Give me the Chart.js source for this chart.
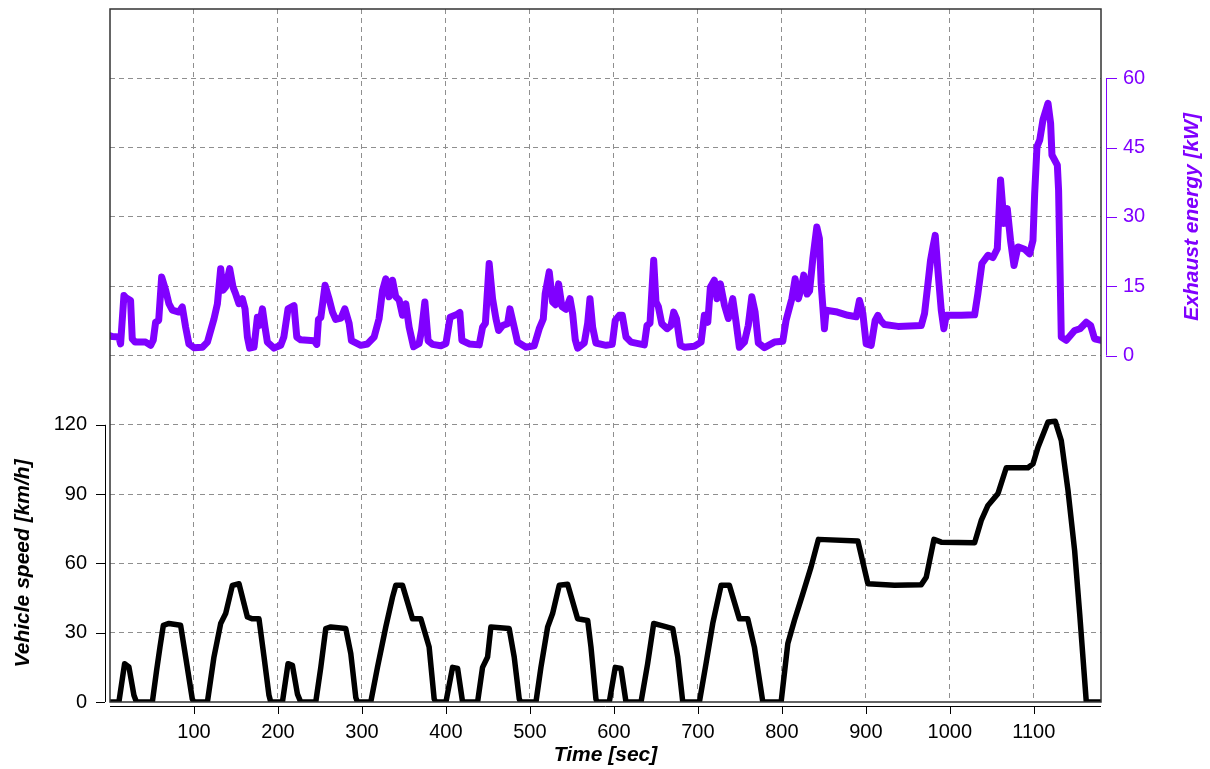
<!DOCTYPE html>
<html>
<head>
<meta charset="utf-8">
<script src="https://cdn.jsdelivr.net/npm/chart.js@4.4.1/dist/chart.umd.min.js"></script>
<style>
  html, body { margin: 0; padding: 0; background: #fff; }
</style>
</head>
<body>
<canvas id="cycle" width="1210" height="769"></canvas>
<script>
// vehicle speed over the drive cycle (s, km/h)
const speedTime = [0, 10.6, 17.4, 22.5, 28.5, 31.5, 50.4, 55.5, 59.5, 63.5, 70.2, 84.1, 90.1, 98, 100,
  116, 123.8, 131.8, 137.7, 145.7, 153.6, 163.6, 169.6, 177.4, 183.4, 189.3, 191.4,
  205.3, 212, 217.2, 223.2, 227.1, 245, 251, 256.9, 262.9, 280.7, 286.7, 292.7, 294.6,
  310.5, 318.5, 328.4, 336.4, 340.3, 348.3, 360.2, 370.1, 380, 386, 388,
  400, 407.9, 413.9, 419.8, 437.7, 443.6, 449.6, 453.5, 475.3, 481.3, 487.3, 489,
  507.2, 513.1, 521.1, 527, 534.9, 544.9, 556.8, 568.8, 572.7, 578.6, 580,
  594.5, 601.6, 608.4, 614.4, 632.3, 640.2, 647.4, 656.1, 670.1, 676, 682,
  701.8, 709.7, 717.7, 727.6, 737.5, 749.4, 759.4, 767.3, 777.3,
  799.1, 807.1, 815, 825, 834.8, 843.5, 890.5, 902.4, 934.1, 966, 971.9, 981.1, 989.8,
  1029.5, 1037.4, 1045.4, 1057.3, 1067.2, 1093, 1099, 1105, 1116.9, 1125.6, 1132.7,
  1140.7, 1148.6, 1154.6, 1162.5, 1180];
const speedKmh = [0, 0, 16.6, 15.2, 2.9, 0, 0, 13.7, 23.8, 33.2, 34, 33.2, 19.5, 1.3, 0,
  0, 19.5, 34, 38.3, 50.5, 51.2, 36.8, 36, 36, 19.5, 2.9, 0,
  0, 16.6, 15.9, 3.4, 0, 0, 15, 31.8, 32.5, 31.8, 21, 1.9, 0,
  0, 15, 32.5, 45.4, 50.5, 50.5, 36, 36, 23.8, 1.3, 0,
  0, 15, 14.5, 0, 0, 15, 19.5, 32.5, 31.8, 19.5, 1.3, 0,
  0, 15, 32.5, 38.3, 50.5, 51, 36, 35.3, 23.8, 1.3, 0,
  0, 15, 14.5, 0, 0, 16.6, 34, 33.2, 31.8, 19.5, 0,
  0, 16.6, 34, 50.5, 50.5, 36, 36, 23.8, 0,
  0, 25.3, 35.4, 46.9, 58.5, 70.4, 69.7, 51.2, 50.5, 50.8, 54, 70.4, 69.2,
  68.9, 78.6, 85.1, 90.2, 101.4, 101.4, 103.1, 110.3, 121.2, 121.5, 113.2,
  91.6, 65.6, 38.3, 0, 0];

// exhaust energy flow over the same cycle (s, kW)
const energyTime = [0, 2.7, 10.6, 12.6, 16.6, 19, 24.5, 26.5, 30, 42.4, 48.4, 51.5, 54.3, 58, 61.5, 66.3,
  70.2, 74.2, 82.1, 86.1, 90.1, 94, 100, 110, 116, 121, 123.8, 127.9, 131.8, 134.5, 137.7, 142.5,
  146.5, 149.7, 153.6, 157.6, 160.8, 163.6, 166.3, 171.5, 175.5, 178, 181.5, 184.6, 187.4, 195.3,
  203.3, 207, 212, 219.1, 222.4, 227.1, 243, 246.2, 248.2, 251, 256.1, 260.8, 264.9, 268.8, 275,
  279.6, 284.7, 287.5, 298.6, 306.6, 314.5, 320.4, 324.5, 328.4, 332.3, 336.4, 340.3, 344.3, 348.3,
  352.2, 356.2, 361.4, 368.1, 371, 374.9, 378.8, 384, 394, 400, 405, 413, 416.6, 419, 427.7, 439.6,
  443.6, 447, 451.5, 455.5, 459.5, 462.7, 467.5, 473.4, 476.2, 481.3, 485.3, 495.2, 505.1, 511.1,
  515.9, 518.2, 523, 527, 530.5, 534.2, 538.1, 543, 547.7, 550.9, 554, 556.8, 564.7, 568.8, 571.5,
  574.7, 578.6, 590.6, 598, 601.6, 606.4, 610, 614.4, 620.4, 636.2, 639.4, 643, 647.4, 650.1, 652.9,
  657, 663.3, 668, 671.2, 674.5, 679.1, 683.9, 695.8, 703.8, 707.7, 711.8, 714.9, 719.6, 722.8,
  726.8, 731.5, 736.3, 741.5, 745.5, 749.4, 755.4, 760, 764.2, 768.1, 772, 779.2, 791.1, 801.1, 805,
  811.9, 815.8, 819.7, 823, 826.1, 830.1, 833, 836.9, 841.6, 844.7, 846.8, 850.7, 852.7, 866, 878.6,
  888.5, 892.4, 896.4, 900.4, 906.3, 911.1, 914.3, 918, 922.2, 938.2, 966, 969.9, 973.9, 977, 979.9,
  982.6, 985.8, 989.8, 992.9, 995.7, 1013.6, 1029.5, 1033.4, 1038.2, 1045.4, 1051.3, 1056.5, 1060.4,
  1064.5, 1068.4, 1072.3, 1076.4, 1081.1, 1089, 1095, 1099, 1101, 1103.8, 1107, 1110.9, 1116.9, 1120,
  1121.6, 1128, 1129.5, 1132.7, 1138.7, 1148.6, 1155, 1162.5, 1167.7, 1172.4, 1180];
const energyKw = [4.3, 4.1, 4.0, 2.5, 13, 12.5, 11.9, 3.6, 2.9, 2.9, 2.2, 3.3, 7.2, 7.6, 17, 14.1,
  11.2, 9.8, 9.4, 10.5, 6.1, 2.5, 1.7, 1.8, 2.9, 6.1, 7.9, 11.2, 18.8, 14.1, 14.8, 18.8,
  14.8, 13.3, 11.2, 12.3, 10.1, 4, 1.6, 1.8, 8.3, 6.5, 10.1, 6.1, 2.9, 1.6,
  2.2, 4, 10.1, 10.8, 4, 3.4, 3.2, 2.4, 7.8, 8.2, 15.2, 12.3, 9.4, 7.8, 8.1,
  10.1, 7, 3.2, 2.2, 2.5, 4, 8, 14.1, 16.6, 12.7, 16.3, 12.7, 12, 8.7,
  11.2, 6.1, 1.9, 2.6, 5.5, 11.6, 3.2, 2.4, 2.1, 2.6, 8.3, 8.9, 9.3, 3.3, 2.5, 2.3,
  6.1, 7, 19.9, 12.3, 8, 5.4, 6.5, 6.9, 10.1, 6.1, 2.9, 1.8, 2.1, 5.8,
  7.9, 13.4, 18.1, 11.6, 11, 15.5, 10.6, 10, 12.3, 9, 3.4, 1.6, 2.7, 7, 12.3,
  6.1, 2.7, 2.2, 2.4, 7.6, 8.7, 8.7, 4, 2.9, 2.3, 6.5, 7, 20.6, 11.6, 10.6,
  6.9, 5.8, 6.5, 9.4, 8, 2.2, 1.8, 2, 2.9, 8.7, 7.2, 14.8, 16.3, 12.3,
  15.5, 11, 8, 12.3, 7.2, 1.8, 2.9, 6.5, 12.7, 9.4, 2.7, 1.7, 2.9, 3.1, 7.6,
  12.3, 16.6, 12.3, 14.5, 17.4, 13.3, 14, 21, 27.8, 25.3, 15.5, 5.8, 9.8, 9.4, 8.7,
  8.4, 11.9, 9.1, 2.5, 2.2, 7.6, 8.7, 7.5, 6.7, 6.3, 6.5, 9.1, 15.5, 20.6, 23.5,
  26, 18.4, 9.8, 5.8, 8.7, 8.7, 8.8, 13.4, 19.9, 21.7, 21.2, 23.1, 38,
  28.6, 31.8, 24.9, 19.5, 23.5, 23, 22, 24.9, 35, 45.2, 46.6, 51, 54.6, 50.3,
  43.4, 41.2, 35.8, 4, 3.3, 5.4, 5.8, 7.2, 6.5, 3.6, 3.3];

// axis ticks that carry a label
const timeTicks = [100, 200, 300, 400, 500, 600, 700, 800, 900, 1000, 1100];
const speedTicks = [0, 30, 60, 90, 120];
const energyTicks = [0, 15, 30, 45, 60];

const PURPLE = '#8000ff';
const GRID = '#8f8f8f';
const FONT = "'Liberation Sans', Arial, sans-serif";

Chart.defaults.font.family = FONT;

function toPoints(xs, ys) {
  return xs.map(function (x, i) { return { x: x, y: ys[i] }; });
}

// tick values come back with float noise, so compare rounded
function isListed(list, v) {
  return list.indexOf(Math.round(v)) >= 0 && Math.abs(v - Math.round(v)) < 1e-6;
}

// frame, offset axis lines with short tick marks and the rotated y titles
const axisDecor = {
  id: 'axisDecor',
  afterDraw: function (chart) {
    const ctx = chart.ctx;
    const area = chart.chartArea;
    const xs = chart.scales.x;
    const ys = chart.scales.ySpeed;
    const ye = chart.scales.yEnergy;
    ctx.save();

    ctx.strokeStyle = '#333';
    ctx.lineWidth = 1.5;
    ctx.strokeRect(area.left, area.top, area.right - area.left, area.bottom - area.top);

    // left axis (speed)
    ctx.strokeStyle = '#000';
    ctx.lineWidth = 1;
    const lx = area.left - 5;
    ctx.beginPath();
    ctx.moveTo(lx + 0.5, ys.getPixelForValue(speedTicks[0]));
    ctx.lineTo(lx + 0.5, ys.getPixelForValue(speedTicks[speedTicks.length - 1]));
    speedTicks.forEach(function (v) {
      const y = Math.round(ys.getPixelForValue(v)) + 0.5;
      ctx.moveTo(lx, y);
      ctx.lineTo(lx - 9, y);
    });
    ctx.stroke();

    // bottom axis (time)
    const by = area.bottom + 4;
    ctx.beginPath();
    ctx.moveTo(area.left, by + 0.5);
    ctx.lineTo(area.right, by + 0.5);
    timeTicks.forEach(function (v) {
      const x = Math.round(xs.getPixelForValue(v)) + 0.5;
      ctx.moveTo(x, by);
      ctx.lineTo(x, by + 8);
    });
    ctx.stroke();

    // right axis (exhaust energy)
    ctx.strokeStyle = PURPLE;
    const rx = area.right + 5;
    ctx.beginPath();
    ctx.moveTo(rx + 0.5, ye.getPixelForValue(energyTicks[0]));
    ctx.lineTo(rx + 0.5, ye.getPixelForValue(energyTicks[energyTicks.length - 1]));
    energyTicks.forEach(function (v) {
      const y = Math.round(ye.getPixelForValue(v)) + 0.5;
      ctx.moveTo(rx, y);
      ctx.lineTo(rx + 11, y);
    });
    ctx.stroke();

    // y titles, centred on the labelled part of each axis
    ctx.font = 'italic bold 21px ' + FONT;
    ctx.textAlign = 'center';
    ctx.textBaseline = 'middle';

    const sy = (ys.getPixelForValue(0) + ys.getPixelForValue(120)) / 2;
    ctx.save();
    ctx.translate(23, sy);
    ctx.rotate(-Math.PI / 2);
    ctx.fillStyle = '#000';
    ctx.fillText('Vehicle speed [km/h]', 0, 0);
    ctx.restore();

    const ey = (ye.getPixelForValue(0) + ye.getPixelForValue(60)) / 2;
    ctx.save();
    ctx.translate(1192, ey);
    ctx.rotate(-Math.PI / 2);
    ctx.fillStyle = PURPLE;
    ctx.fillText('Exhaust energy [kW]', 0, 0);
    ctx.restore();

    ctx.restore();
  }
};

new Chart(document.getElementById('cycle'), {
  type: 'line',
  data: {
    datasets: [
      {
        label: 'Vehicle speed',
        data: toPoints(speedTime, speedKmh),
        yAxisID: 'ySpeed',
        borderColor: '#000',
        borderWidth: 5.5,
        pointRadius: 0,
        tension: 0,
        borderJoinStyle: 'round',
        borderCapStyle: 'round',
        clip: 0
      },
      {
        label: 'Exhaust energy',
        data: toPoints(energyTime, energyKw),
        yAxisID: 'yEnergy',
        borderColor: PURPLE,
        borderWidth: 7,
        pointRadius: 0,
        tension: 0,
        borderJoinStyle: 'round',
        borderCapStyle: 'round',
        clip: 0
      }
    ]
  },
  options: {
    responsive: false,
    animation: false,
    layout: { padding: { top: 9, left: 0, right: 0, bottom: 0 } },
    plugins: {
      legend: { display: false },
      tooltip: { enabled: false }
    },
    scales: {
      x: {
        type: 'linear',
        position: 'bottom',
        min: 0,
        max: 1180,
        afterFit: function (s) { s.height = 67; s.paddingLeft = 0; s.paddingRight = 0; },
        ticks: {
          stepSize: 100,
          includeBounds: false,
          autoSkip: false,
          maxRotation: 0,
          padding: 18,
          color: '#000',
          font: { size: 20 },
          callback: function (v) { return isListed(timeTicks, v) ? String(Math.round(v)) : ''; }
        },
        grid: {
          drawTicks: false,
          lineWidth: 1,
          color: function (c) { return c.tick && isListed(timeTicks, c.tick.value) ? GRID : 'transparent'; }
        },
        border: { display: false, dash: [5, 4] },
        title: {
          display: true,
          text: 'Time [sec]',
          color: '#000',
          font: { size: 21, weight: 'bold', style: 'italic' },
          padding: { top: 0, bottom: 1 }
        }
      },
      ySpeed: {
        type: 'linear',
        position: 'left',
        min: 0,
        max: 300,
        afterFit: function (s) { s.width = 110; s.paddingTop = 0; s.paddingBottom = 0; },
        ticks: {
          stepSize: 30,
          autoSkip: false,
          maxTicksLimit: 30,
          padding: 23,
          color: '#000',
          font: { size: 20 },
          callback: function (v) { return isListed(speedTicks, v) ? String(Math.round(v)) : ''; }
        },
        grid: {
          drawTicks: false,
          lineWidth: 1,
          color: function (c) { return c.tick && c.tick.value > 1 && c.tick.value < 299 ? GRID : 'transparent'; }
        },
        border: { display: false, dash: [5, 4] }
      },
      yEnergy: {
        type: 'linear',
        position: 'right',
        min: -75,
        max: 75,
        afterFit: function (s) { s.width = 109; s.paddingTop = 0; s.paddingBottom = 0; },
        ticks: {
          stepSize: 15,
          autoSkip: false,
          maxTicksLimit: 30,
          padding: 22,
          color: PURPLE,
          font: { size: 20 },
          callback: function (v) { return isListed(energyTicks, v) ? String(Math.round(v)) : ''; }
        },
        grid: { drawOnChartArea: false, drawTicks: false },
        border: { display: false }
      }
    }
  },
  plugins: [axisDecor]
});
</script>
</body>
</html>
